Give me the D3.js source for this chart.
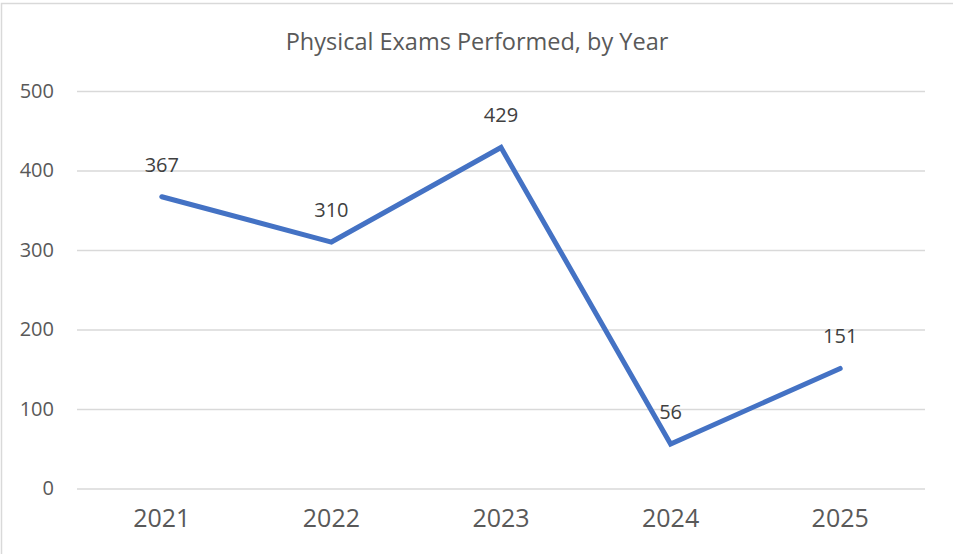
<!DOCTYPE html>
<html>
<head>
<meta charset="utf-8">
<script src="https://cdn.jsdelivr.net/npm/d3@7"></script>
<style>
  body { margin: 0; background: #fff; }
  svg { display: block; }
</style>
</head>
<body>
<svg id="svg" width="953" height="554"></svg>
<script>
// chart data
var years = ["2021", "2022", "2023", "2024", "2025"];
var exams = [367, 310, 429, 56, 151];
var yTicks = [0, 100, 200, 300, 400, 500];
var title = "Physical Exams Performed, by Year";

var width = 953;
var height = 554;
var margin = {top: 91, right: 28, bottom: 65, left: 77};
var font = "'Open Sans', 'Segoe UI', sans-serif";
var textColor = "#595959";

var svg = d3.select("#svg");

// chart border (only top and left edges show in the crop)
svg.append("path")
    .attr("d", "M1.5,554V3.5H953")
    .attr("fill", "none")
    .attr("stroke", "#d9d9d9")
    .attr("stroke-width", 1.5);

var x = d3.scaleBand()
    .range([margin.left, width - margin.right])
    .domain(years);

var y = d3.scaleLinear()
    .range([height - margin.bottom - 0.5, margin.top])
    .domain([0, 500]);

svg.append("text")
    .attr("x", 477)
    .attr("y", 42)
    .attr("dy", "0.35em")
    .attr("text-anchor", "middle")
    .attr("font-family", font)
    .attr("font-size", 23.5)
    .attr("fill", textColor)
    .text(title);

// gridlines + y labels
var yAxis = svg.append("g")
    .attr("transform", "translate(" + margin.left + ",0)")
    .call(d3.axisLeft(y).tickValues(yTicks).tickSize(-(width - margin.left - margin.right)).tickPadding(23));

yAxis.select(".domain").remove();
yAxis.selectAll(".tick line")
    .attr("stroke", "#d9d9d9")
    .attr("stroke-width", 1.3);
yAxis.selectAll(".tick text")
    .attr("font-family", font)
    .attr("font-size", 20)
    .attr("fill", textColor);

// x labels
var xAxis = svg.append("g")
    .attr("transform", "translate(0," + y(0) + ")")
    .call(d3.axisBottom(x).tickSize(0).tickPadding(21));

xAxis.select(".domain").remove();
xAxis.selectAll(".tick text")
    .attr("font-family", font)
    .attr("font-size", 25)
    .attr("fill", textColor);

var pts = years.map(function(d, i) { return {year: d, value: exams[i]}; });

var line = d3.line()
    .x(d => x(d.year) + x.bandwidth() / 2)
    .y(d => y(d.value));

svg.append("path")
    .datum(pts)
    .attr("d", line)
    .attr("fill", "none")
    .attr("stroke", "#4472c4")
    .attr("stroke-width", 5)
    .attr("stroke-linecap", "round")
    .attr("stroke-linejoin", "miter");

svg.append("g")
  .selectAll("text")
  .data(pts)
  .join("text")
    .attr("x", d => x(d.year) + x.bandwidth() / 2)
    .attr("y", d => y(d.value) - 32)
    .attr("dy", "0.35em")
    .attr("text-anchor", "middle")
    .attr("font-family", font)
    .attr("font-size", 20)
    .attr("fill", "#404040")
    .text(d => d.value);
</script>
</body>
</html>
